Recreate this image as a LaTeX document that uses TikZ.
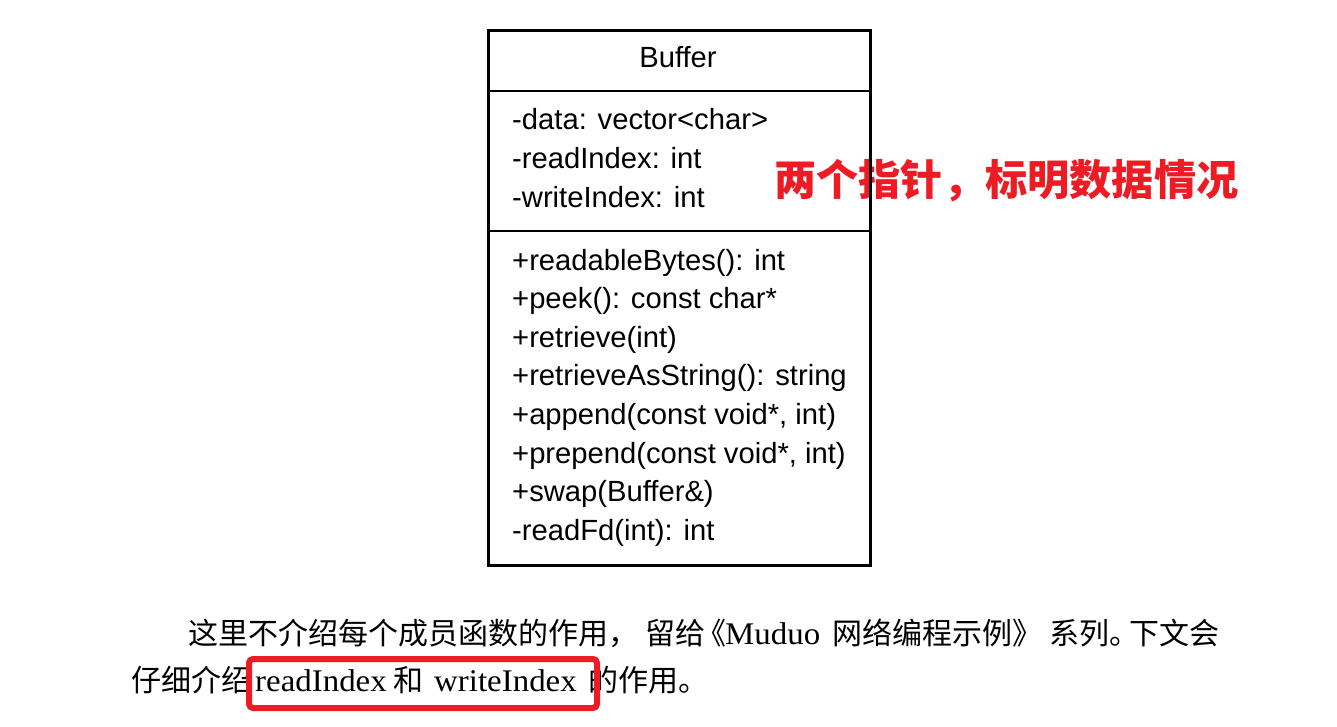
\documentclass[tikz,border=0pt]{standalone}
\usepackage{fontspec}
\newfontfamily\arial{Liberation Sans}
\newfontfamily\cjk{Noto Sans CJK SC}
\newfontfamily\bookserif[FakeStretch=1.045]{Liberation Serif}
\definecolor{mkred}{RGB}{237,28,36}
\tikzset{
  umltxt/.style={font=\arial\fontsize{29.2}{35}\selectfont, anchor=base west, inner sep=0pt},
  cjktxt/.style={font=\cjk\fontsize{30}{36}\selectfont, anchor=base west, inner sep=0pt},
  lattxt/.style={font=\bookserif\fontsize{31.5}{36}\selectfont, anchor=base west, inner sep=0pt},
  boxline/.style={line width=2.6pt, black},
}
\begin{document}
\begin{tikzpicture}[x=1pt,y=-1pt]
\useasboundingbox[fill=white] (0,0) rectangle (1337,727);
% red note
\node[font=\cjk\bfseries\fontsize{42.2}{48}\selectfont, text=mkred, anchor=base west, inner sep=0pt] (note) at (774,196) {两个指针，标明数据情况};
% class box
\node[draw, boxline, anchor=north west, minimum width=382pt, minimum height=535pt, inner sep=0pt] (cls) at (487,29) {};
\coordinate (d1) at (487,91);
\coordinate (d2) at (487,231);
\draw[boxline] (d1) -- (d1 -| cls.east);
\draw[boxline] (d2) -- (d2 -| cls.east);
\node[umltxt, anchor=base] (title) at (678,68) {Buffer};
\node[umltxt] (a1) at (512,130) {-data: vector<char>};
\node[umltxt] (a2) at (512,168.6) {-readIndex: int};
\node[umltxt] (a3) at (512,207.2) {-writeIndex: int};
\node[umltxt] (m1) at (512,270) {+readableBytes(): int};
\node[umltxt] (m2) at (512,308.6) {+peek(): const char*};
\node[umltxt] (m3) at (512,347.2) {+retrieve(int)};
\node[umltxt] (m4) at (512,385.8) {+retrieveAsString(): string};
\node[umltxt] (m5) at (512,424.4) {+append(const void*, int)};
\node[umltxt] (m6) at (512,463) {+prepend(const void*, int)};
\node[umltxt] (m7) at (512,501.6) {+swap(Buffer\&)};
\node[umltxt] (m8) at (512,540.2) {-readFd(int): int};
% paragraph line 1
\node[cjktxt] (p1a) at (188,644) {这里不介绍每个成员函数的作用，};
\node[cjktxt] (p1b) at (645,644) {留给};
\node[cjktxt, anchor=base east] (p1c) at (727,644) {《};
\node[lattxt] (p1d) at (725,644) {Muduo};
\node[cjktxt] (p1e) at (832,644) {网络编程示例》};
\node[cjktxt] (p1f) at (1049,644) {系列。};
\node[cjktxt] (p1g) at (1129,644) {下文会};
% paragraph line 2
\node[cjktxt] (p2a) at (131,691) {仔细介绍};
\node[lattxt] (p2b) at (255,691) {readIndex};
\node[cjktxt] (p2c) at (393,691) {和};
\node[lattxt] (p2d) at (434,691) {writeIndex};
\node[cjktxt] (p2e) at (588,691) {的作用。};
% highlight box
\node[draw=mkred, line width=6pt, rounded corners=4pt, anchor=north west, minimum width=348pt, minimum height=49pt, inner sep=0pt] (hl) at (246,656) {};
\end{tikzpicture}
\end{document}
